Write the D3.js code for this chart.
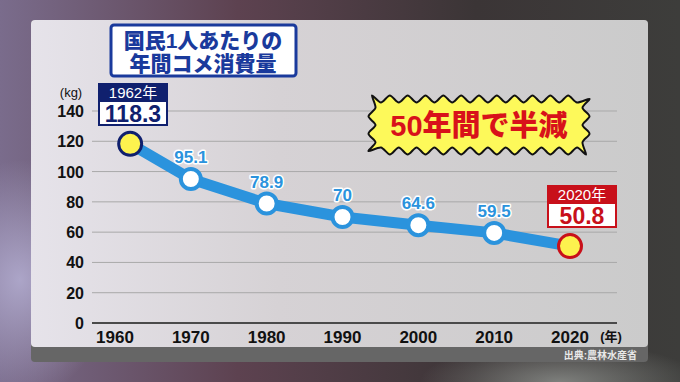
<!DOCTYPE html>
<html>
<head>
<meta charset="utf-8">
<script src="https://cdn.jsdelivr.net/npm/d3@7"></script>
<style>
  body { margin: 0; background: #333; }
  svg { display: block; font-family: "Liberation Sans", "Noto Sans CJK JP", sans-serif; }
</style>
</head>
<body>
<svg width="680" height="382"></svg>
<script>
// data
var years = [1962, 1970, 1980, 1990, 2000, 2010, 2020];
var values = [118.3, 95.1, 78.9, 70, 64.6, 59.5, 50.8];
var xTicks = [1960, 1970, 1980, 1990, 2000, 2010, 2020];
var yTicks = [0, 20, 40, 60, 80, 100, 120, 140];
var titleLines = ["国民1人あたりの", "年間コメ消費量"];

var svg = d3.select("svg");
var defs = svg.append("defs");

// blurry backdrop
var bg = defs.append("linearGradient").attr("id", "bg").attr("x1", 0).attr("x2", 1).attr("y1", 0).attr("y2", 0);
bg.append("stop").attr("offset", "0").attr("stop-color", "#7a6c8c");
bg.append("stop").attr("offset", "0.35").attr("stop-color", "#5d4250");
bg.append("stop").attr("offset", "0.7").attr("stop-color", "#3b3536");
bg.append("stop").attr("offset", "1").attr("stop-color", "#3d3d3b");
svg.append("rect").attr("width", 680).attr("height", 382).attr("fill", "url(#bg)");
var glow = defs.append("radialGradient").attr("id", "glow");
glow.append("stop").attr("offset", "0").attr("stop-color", "#b9b4d8").attr("stop-opacity", 0.8);
glow.append("stop").attr("offset", "1").attr("stop-color", "#b9b4d8").attr("stop-opacity", 0);
svg.append("ellipse").attr("cx", 20).attr("cy", 280).attr("rx", 90).attr("ry", 120).attr("fill", "url(#glow)");
var glow2 = defs.append("radialGradient").attr("id", "glow2");
glow2.append("stop").attr("offset", "0").attr("stop-color", "#9a9e9a").attr("stop-opacity", 0.7);
glow2.append("stop").attr("offset", "1").attr("stop-color", "#9a9e9a").attr("stop-opacity", 0);
svg.append("ellipse").attr("cx", 560).attr("cy", 382).attr("rx", 140).attr("ry", 40).attr("fill", "url(#glow2)");

// panel
var pg = defs.append("linearGradient").attr("id", "panel").attr("x1", 0).attr("x2", 1).attr("y1", 0).attr("y2", 0);
pg.append("stop").attr("offset", "0").attr("stop-color", "#e6e3ea");
pg.append("stop").attr("offset", "0.4").attr("stop-color", "#d6d2d5");
pg.append("stop").attr("offset", "1").attr("stop-color", "#cbcbcb");
svg.append("rect").attr("x", 31).attr("y", 20).attr("width", 617).attr("height", 342).attr("rx", 4)
  .attr("fill", "#666");
svg.append("rect").attr("x", 31).attr("y", 20).attr("width", 617).attr("height", 327).attr("rx", 4)
  .attr("fill", "url(#panel)");
svg.append("text").attr("x", 637).attr("y", 359).attr("text-anchor", "end")
  .attr("font-size", 10).attr("font-weight", "bold").attr("fill", "#e8e8e8").text("出典:農林水産省");

// scales
var x = d3.scaleLinear().domain([1960, 2020]).range([115, 570]);
var y = d3.scaleLinear().domain([0, 140]).range([323, 111]);

// gridlines
svg.append("g").selectAll("line").data(yTicks.slice(1)).enter().append("line")
  .attr("x1", 92).attr("x2", 617)
  .attr("y1", function(d) { return y(d); }).attr("y2", function(d) { return y(d); })
  .attr("stroke", "#a9a9a9").attr("stroke-width", 1);
svg.append("line").attr("x1", 92).attr("x2", 617).attr("y1", y(0)).attr("y2", y(0))
  .attr("stroke", "#4a4a4a").attr("stroke-width", 2);

// y labels
svg.append("g").selectAll("text").data(yTicks).enter().append("text")
  .attr("x", 84).attr("y", function(d) { return y(d) + 6; })
  .attr("text-anchor", "end").attr("font-size", 16).attr("font-weight", "bold").attr("fill", "#111")
  .text(function(d) { return d; });
svg.append("text").attr("x", 71).attr("y", 97).attr("text-anchor", "middle")
  .attr("font-size", 13).attr("fill", "#111").text("(kg)");

// x labels
svg.append("g").selectAll("text").data(xTicks).enter().append("text")
  .attr("x", function(d) { return x(d); }).attr("y", 343)
  .attr("text-anchor", "middle").attr("font-size", 17).attr("font-weight", "bold").attr("fill", "#111")
  .text(function(d) { return d; });
svg.append("text").attr("x", 611).attr("y", 341).attr("text-anchor", "middle")
  .attr("font-size", 13).attr("font-weight", "bold").attr("fill", "#111").text("(年)");

// line
var line = d3.line().x(function(d, i) { return x(years[i]); }).y(function(d) { return y(d); });
svg.append("path").datum(values).attr("d", line).attr("fill", "none")
  .attr("stroke", "#2b93dd").attr("stroke-width", 11).attr("stroke-linejoin", "round");

var n = values.length;
svg.append("g").selectAll("circle").data(values).enter().append("circle")
  .attr("cx", function(d, i) { return x(years[i]); })
  .attr("cy", function(d) { return y(d); })
  .attr("r", function(d, i) { return (i === 0 || i === n - 1) ? 11.5 : 10; })
  .attr("fill", function(d, i) { return (i === 0 || i === n - 1) ? "#fdf24e" : "#fff"; })
  .attr("stroke", function(d, i) { return i === 0 ? "#10206e" : (i === n - 1 ? "#c8101a" : "#2b93dd"); })
  .attr("stroke-width", function(d, i) { return (i === 0 || i === n - 1) ? 3 : 4; });

// value labels for middle points
svg.append("g").selectAll("text").data(values.slice(1, n - 1)).enter().append("text")
  .attr("x", function(d, i) { return x(years[i + 1]); })
  .attr("y", function(d) { return y(d) - 16; })
  .attr("text-anchor", "middle").attr("font-size", 17).attr("font-weight", "bold")
  .attr("fill", "#2b93dd").attr("stroke", "#fff").attr("stroke-width", 3)
  .attr("paint-order", "stroke").attr("stroke-linejoin", "round")
  .text(function(d) { return d; });

// callouts for first and last
function callout(cx, top, w, color, head, val) {
  var g = svg.append("g");
  g.append("rect").attr("x", cx - w / 2).attr("y", top).attr("width", w).attr("height", 18).attr("fill", color);
  g.append("rect").attr("x", cx - w / 2 + 1).attr("y", top + 18).attr("width", w - 2).attr("height", 24)
    .attr("fill", "#fff").attr("stroke", color).attr("stroke-width", 2);
  g.append("text").attr("x", cx).attr("y", top + 15).attr("text-anchor", "middle")
    .attr("font-size", 15).attr("fill", "#fff").text(head);
  g.append("text").attr("x", cx).attr("y", top + 39).attr("text-anchor", "middle")
    .attr("font-size", 23).attr("font-weight", "bold").attr("fill", color).text(val);
}
callout(133, 83, 70, "#10206e", years[0] + "年", values[0]);
callout(582, 185, 70, "#c8101a", years[n - 1] + "年", values[n - 1]);

// title box
svg.append("rect").attr("x", 111).attr("y", 25).attr("width", 185).attr("height", 51).attr("rx", 3)
  .attr("fill", "#fff").attr("stroke", "#1a3a9c").attr("stroke-width", 3);
svg.append("g").selectAll("text").data(titleLines).enter().append("text")
  .attr("x", 203).attr("y", function(d, i) { return 48 + i * 23; })
  .attr("text-anchor", "middle").attr("font-size", 21).attr("font-weight", 900)
  .attr("fill", "#1a3a9c").text(function(d) { return d; });

// burst badge
var bx0 = 372, bx1 = 586, by0 = 99, by1 = 151;
var pts = [];
var step = 9, amp = 3.5;
function edge(xa, ya, xb, yb, nx, ny) {
  var len = Math.hypot(xb - xa, yb - ya), k = Math.round(len / step);
  for (var j = 0; j < k; j++) {
    var t = j / k, o = (j % 2 === 0) ? amp : -amp;
    pts.push([xa + (xb - xa) * t + nx * o, ya + (yb - ya) * t + ny * o]);
  }
}
edge(bx0, by0, bx1, by0, 0, -1);
edge(bx1, by0, bx1, by1, 1, 0);
edge(bx1, by1, bx0, by1, 0, 1);
edge(bx0, by1, bx0, by0, -1, 0);
svg.append("path").attr("d", d3.line().curve(d3.curveCardinalClosed.tension(0.2))(pts))
  .attr("fill", "#fdf95a").attr("stroke", "#111").attr("stroke-width", 2);
svg.append("text").attr("x", 479).attr("y", 136).attr("text-anchor", "middle")
  .attr("font-size", 29).attr("font-weight", 900).attr("fill", "#d8121a").text("50年間で半減");
</script>
</body>
</html>
